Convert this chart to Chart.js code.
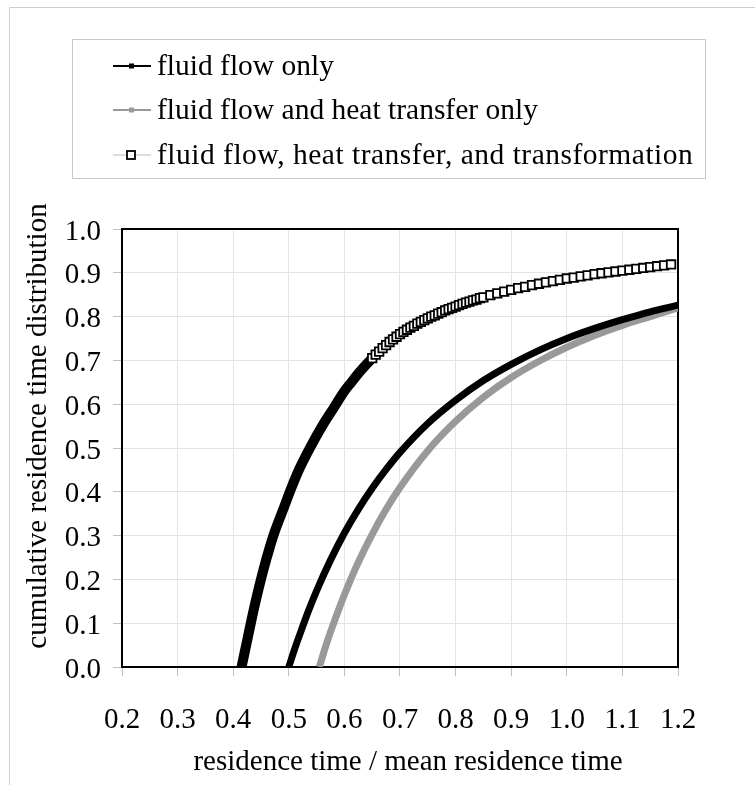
<!DOCTYPE html>
<html>
<head>
<meta charset="utf-8">
<script src="https://cdn.jsdelivr.net/npm/chart.js@4.4.1/dist/chart.umd.min.js"></script>
<style>
  body { margin: 0; background: #fff; }
  #lienzo { display: block; }
</style>
</head>
<body>
<canvas id="lienzo" width="755" height="785"></canvas>
<script>
// Datos (tiempo adimensional / distribucion acumulada)
const tiempoFlujo = [0.5, 0.51, 0.52, 0.535, 0.55, 0.575, 0.6, 0.625, 0.65, 0.675, 0.7, 0.75, 0.8, 0.85, 0.9, 0.95, 1.0, 1.05, 1.1, 1.15, 1.2];
const fdaFlujo = [0.0, 0.039, 0.075, 0.127, 0.174, 0.244, 0.306, 0.36, 0.408, 0.451, 0.49, 0.556, 0.609, 0.654, 0.691, 0.723, 0.75, 0.773, 0.793, 0.811, 0.826];

const tiempoCalor = [0.555, 0.565, 0.575, 0.59, 0.6, 0.625, 0.65, 0.675, 0.7, 0.75, 0.8, 0.85, 0.9, 0.95, 1.0, 1.05, 1.1, 1.15, 1.2];
const fdaCalor = [0.0, 0.042, 0.08, 0.132, 0.165, 0.239, 0.303, 0.36, 0.41, 0.494, 0.561, 0.616, 0.661, 0.698, 0.73, 0.757, 0.78, 0.8, 0.82];

const tiempoTransf = [0.415, 0.425, 0.435, 0.445, 0.455, 0.465, 0.475, 0.49, 0.505, 0.52, 0.54, 0.56, 0.58, 0.6, 0.6125, 0.625, 0.6375,
  0.65, 0.65625, 0.6625, 0.66875, 0.675, 0.68125, 0.6875, 0.69375, 0.7, 0.70625, 0.7125, 0.71875, 0.725, 0.73125, 0.7375, 0.74375,
  0.75, 0.75625, 0.7625, 0.76875, 0.775, 0.78125, 0.7875, 0.79375, 0.8, 0.80625, 0.8125, 0.81875, 0.825, 0.83125, 0.8375, 0.84375,
  0.85, 0.8625, 0.875, 0.8875, 0.9, 0.9125, 0.925, 0.9375, 0.95, 0.9625, 0.975, 0.9875, 1.0, 1.0125, 1.025, 1.0375, 1.05, 1.0625,
  1.075, 1.0875, 1.1, 1.1125, 1.125, 1.1375, 1.15, 1.1625, 1.175, 1.1875];
const fdaTransf = [0.0, 0.06, 0.12, 0.175, 0.225, 0.27, 0.31, 0.36, 0.41, 0.455, 0.505, 0.55, 0.59, 0.63, 0.65, 0.67, 0.688,
  0.705, 0.713, 0.72, 0.728, 0.735, 0.742, 0.748, 0.754, 0.76, 0.765, 0.77, 0.775, 0.779, 0.784, 0.788, 0.792,
  0.796, 0.8, 0.803, 0.807, 0.81, 0.814, 0.817, 0.82, 0.823, 0.826, 0.829, 0.832, 0.834, 0.837, 0.839, 0.842,
  0.844, 0.849, 0.853, 0.857, 0.861, 0.865, 0.868, 0.872, 0.875, 0.878, 0.881, 0.884, 0.887, 0.889, 0.892, 0.894, 0.897, 0.899,
  0.901, 0.903, 0.905, 0.907, 0.909, 0.911, 0.913, 0.915, 0.917, 0.919];

const ticksX = [0.2, 0.3, 0.4, 0.5, 0.6, 0.7, 0.8, 0.9, 1.0, 1.1, 1.2];
const ticksY = [0.0, 0.1, 0.2, 0.3, 0.4, 0.5, 0.6, 0.7, 0.8, 0.9, 1.0];

const nombresSeries = ['fluid flow only', 'fluid flow and heat transfer only', 'fluid flow, heat transfer, and transformation'];
const tituloX = 'residence time / mean residence time';
const tituloY = 'cumulative residence time distribution';

const fuente = '"Liberation Serif", "Times New Roman", serif';

function aPuntos(xs, ys) {
  return xs.map((x, i) => ({ x: x, y: ys[i] }));
}

// Marco exterior, marco del area de trazado, titulos de ejes y leyenda propia
const pluginMarcos = {
  id: 'marcos',
  beforeDraw(chart) {
    const ctx = chart.ctx;
    ctx.save();
    ctx.fillStyle = '#fff';
    ctx.fillRect(0, 0, chart.width, chart.height);
    ctx.strokeStyle = '#cfcfcf';
    ctx.lineWidth = 1;
    ctx.beginPath();
    ctx.moveTo(9.5, chart.height);
    ctx.lineTo(9.5, 7.5);
    ctx.lineTo(chart.width, 7.5);
    ctx.stroke();
    ctx.restore();
  },
  beforeDatasetsDraw(chart) {
    const a = chart.chartArea;
    const ctx = chart.ctx;
    ctx.save();
    ctx.strokeStyle = '#000';
    ctx.lineWidth = 2;
    ctx.strokeRect(a.left, a.top, a.right - a.left, a.bottom - a.top);
    ctx.restore();
  },
  afterDraw(chart) {
    const ctx = chart.ctx;
    ctx.save();
    ctx.fillStyle = '#000';
    ctx.font = '29px ' + fuente;
    ctx.textAlign = 'center';
    ctx.textBaseline = 'middle';
    ctx.fillText(tituloX, 408, 762);
    ctx.translate(38, 426);
    ctx.rotate(-Math.PI / 2);
    ctx.fillText(tituloY, 0, 0);
    ctx.restore();

    ctx.save();
    ctx.strokeStyle = '#c8c8c8';
    ctx.lineWidth = 1;
    ctx.strokeRect(72.5, 39.5, 633, 139);
    ctx.font = '29.5px ' + fuente;
    ctx.textBaseline = 'middle';
    const filas = [66, 110, 155];
    filas.forEach((y, i) => {
      if (i === 0) {
        ctx.strokeStyle = '#000'; ctx.lineWidth = 2;
      } else if (i === 1) {
        ctx.strokeStyle = '#999'; ctx.lineWidth = 2;
      } else {
        ctx.strokeStyle = '#bbb'; ctx.lineWidth = 1;
      }
      ctx.beginPath();
      ctx.moveTo(113, y);
      ctx.lineTo(151, y);
      ctx.stroke();
      if (i < 2) {
        ctx.fillStyle = i === 0 ? '#000' : '#999';
        ctx.fillRect(129, y - 2.5, 5, 5);
      } else {
        ctx.fillStyle = '#fff';
        ctx.fillRect(127, y - 4, 8, 8);
        ctx.strokeStyle = '#000'; ctx.lineWidth = 1.8;
        ctx.strokeRect(127, y - 4, 8, 8);
      }
      ctx.fillStyle = '#000';
      ctx.letterSpacing = i === 2 ? '0.5px' : '0px';
      ctx.fillText(nombresSeries[i], 157, y + 1);
    });
    ctx.restore();
  }
};

const ctx = document.getElementById('lienzo').getContext('2d');

new Chart(ctx, {
  type: 'line',
  data: {
    datasets: [{
      label: nombresSeries[0],
      data: aPuntos(tiempoFlujo, fdaFlujo),
      borderColor: '#000',
      borderWidth: 7,
      pointRadius: 0,
      cubicInterpolationMode: 'monotone'
    }, {
      label: nombresSeries[1],
      data: aPuntos(tiempoCalor, fdaCalor),
      borderColor: '#999',
      borderWidth: 7,
      pointRadius: 0,
      cubicInterpolationMode: 'monotone'
    }, {
      label: nombresSeries[2],
      data: aPuntos(tiempoTransf, fdaTransf),
      borderColor: '#bbb',
      borderWidth: 1,
      borderCapStyle: 'round',
      borderJoinStyle: 'round',
      cubicInterpolationMode: 'monotone',
      segment: {
        // donde los marcadores se solapan se ve una banda negra
        borderWidth: c => c.p1.parsed.x <= 0.655 ? 10 : 1,
        borderColor: c => c.p1.parsed.x <= 0.655 ? '#000' : '#bbb'
      },
      pointStyle: 'rect',
      pointRadius: c => (c.raw && c.raw.x < 0.645) ? 0 : 6,
      pointBorderWidth: 1.8,
      pointBorderColor: '#000',
      pointBackgroundColor: '#fff'
    }]
  },
  options: {
    responsive: false,
    animation: false,
    layout: { padding: { left: 0, top: 229, right: 77, bottom: 0 } },
    plugins: {
      legend: { display: false },
      tooltip: { enabled: false }
    },
    scales: {
      x: {
        type: 'linear',
        min: 0.2,
        max: 1.2,
        afterBuildTicks: s => { s.ticks = ticksX.map(v => ({ value: v })); },
        afterFit: s => { s.height = 118; },
        grid: { color: '#e4e4e4', borderDash: [4, 3], tickColor: '#c0c0c0', tickLength: 9 },
        border: { color: '#000', width: 2 },
        ticks: {
          color: '#000',
          padding: 27,
          font: { family: fuente, size: 29 },
          callback: v => v.toFixed(1)
        }
      },
      y: {
        type: 'linear',
        min: 0,
        max: 1,
        afterBuildTicks: s => { s.ticks = ticksY.map(v => ({ value: v })); },
        afterFit: s => { s.width = 122; },
        grid: { color: '#e4e4e4', borderDash: [4, 3], tickColor: '#c0c0c0', tickLength: 9 },
        border: { color: '#000', width: 2 },
        ticks: {
          color: '#000',
          padding: 12,
          labelOffset: 3,
          font: { family: fuente, size: 29 },
          callback: v => v.toFixed(1)
        }
      }
    }
  },
  plugins: [pluginMarcos]
});
</script>
</body>
</html>
